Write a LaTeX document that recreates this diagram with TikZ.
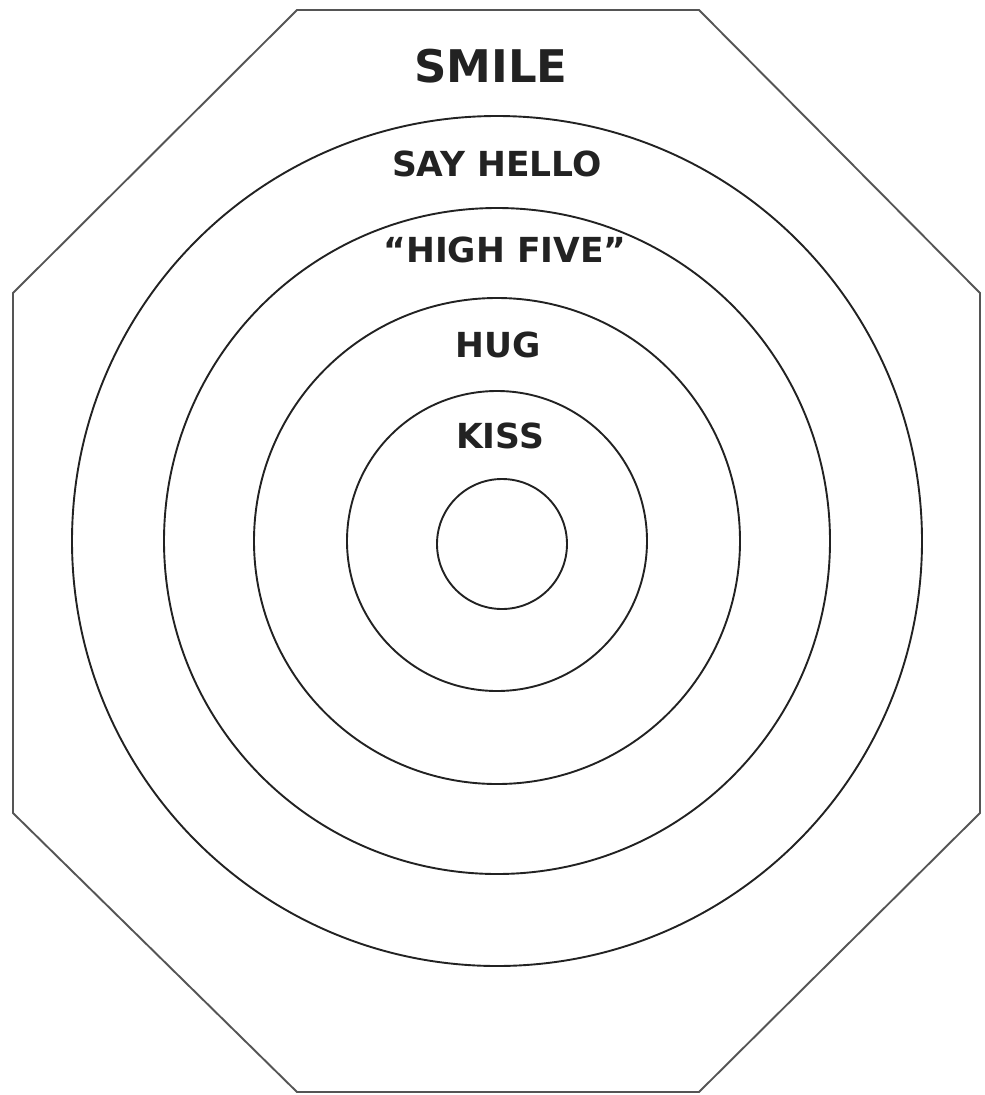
\documentclass[tikz,border=0pt]{standalone}
\usepackage{fontspec}
\newfontfamily\comicfont{DejaVu Sans}
\definecolor{ring}{HTML}{222222}
\definecolor{frame}{HTML}{555555}

\begin{document}
\begin{tikzpicture}[x=1pt,y=-1pt,
    ringline/.style={draw=ring,line width=1.9pt},
    frameline/.style={draw=frame,line width=1.9pt},
    lbl/.style={text=ring,inner sep=0pt},
    bigtxt/.style={lbl,font=\comicfont\bfseries\fontsize{45}{45}\selectfont},
    ringtxt/.style={lbl,font=\comicfont\bfseries\fontsize{34.5}{34.5}\selectfont},
  ]

% fixed bounding box = reference size in px
\useasboundingbox (0,0) rectangle (985,1095);

% ---- octagon frame ---------------------------------------------------------
\draw[frameline] (297,10) -- (699,10) -- (980,293) -- (980,813)
  -- (699,1092) -- (297,1092) -- (13,813) -- (13,293) -- cycle;

% ---- rings -----------------------------------------------------------------
\coordinate (mid) at (497,541);
\foreach \r in {425,333,243,150}
  \draw[ringline] (mid) circle[radius=\r pt];
\coordinate (core) at (502,544);
\draw[ringline] (core) circle[radius=65pt];

% ---- labels ----------------------------------------------------------------
\node[bigtxt]  (smile)    at (491,66)  {SMILE};
\node[ringtxt] (hello)    at (497,164) {SAY HELLO};
\node[ringtxt] (highfive) at (505,250) {“HIGH FIVE”};
\node[ringtxt] (hug)      at (498,345) {HUG};
\node[ringtxt] (kiss)     at (500,436) {KISS};

\end{tikzpicture}
\end{document}
